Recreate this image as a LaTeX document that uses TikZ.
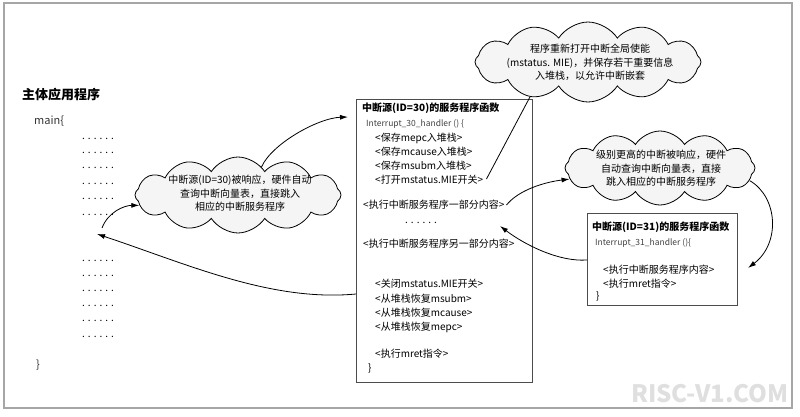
\documentclass[tikz,border=0pt]{standalone}
\usepackage{fontspec}
\setmainfont{Noto Sans CJK SC}
\usetikzlibrary{shapes.symbols,arrows.meta,calc}
\newcommand\sixdots{.\hspace{3pt}.\hspace{3pt}.\hspace{3pt}.\hspace{3pt}.\hspace{3pt}.}
\begin{document}
\begin{tikzpicture}[x=1pt,y=-1pt,
  txt/.style={anchor=west,inner sep=0pt,font=\fontsize{10}{12}\selectfont},
  hdl/.style={anchor=west,inner sep=0pt,font=\fontsize{8.5}{10}\selectfont,text=black!75},
  ttl/.style={anchor=west,inner sep=0pt,font=\fontsize{10}{12}\selectfont\bfseries},
  cloudbg/.style={cloud,cloud puffs=12,cloud puff arc=115,cloud ignores aspect,draw=black,fill=gray!8,line width=0.8pt,inner sep=0pt},
  cloudtxt/.style={align=center,inner sep=0pt,font=\fontsize{10}{13.5}\selectfont},
  box/.style={draw=black!70,line width=1pt,inner sep=0pt,anchor=north west},
  arr/.style={-{Latex[length=8pt,width=5pt]},line width=0.8pt},
  plain/.style={line width=0.8pt}]

\useasboundingbox (0,0) rectangle (800,417);
\draw[gray!70,line width=1.2pt] (4,3) rectangle (792,408);

% main program
\node[anchor=west,inner sep=0pt,font=\fontsize{13}{15}\selectfont\bfseries] (mt) at (22,95) {主体应用程序};
\node[anchor=west,inner sep=0pt,font=\fontsize{11}{13}\selectfont,text=black!80] (mm) at (34,121) {main\{};
\foreach \yy [count=\i] in {139,153,168,184,199,215,261,276,291,306,321,337}
  \node[txt] (md\i) at (82,\yy) {\sixdots};
\node[anchor=west,inner sep=0pt,font=\fontsize{11}{13}\selectfont,text=black!80] (mc) at (36,365) {\}};

% box 2
\node[box,minimum width=176pt,minimum height=283pt] (b2) at (356,99) {};
\node[ttl] (b2t) at (362,108) {中断源(ID=30)的服务程序函数};
\node[hdl] (b2h) at (366,124) {Interrupt\_30\_handler () \{};
\node[txt] (t1) at (375,138) {<保存mepc入堆栈>};
\node[txt] (t2) at (375,152) {<保存mcause入堆栈>};
\node[txt] (t3) at (375,166) {<保存msubm入堆栈>};
\node[txt] (t5) at (375,180) {<打开mstatus.MIE开关>};
\node[txt] (t6) at (363,205) {<执行中断服务程序一部分内容>};
\node[txt] (dd) at (405,223) {\sixdots};
\node[txt] (t7) at (363,244) {<执行中断服务程序另一部分内容>};
\node[txt] (t8) at (375,284) {<关闭mstatus.MIE开关>};
\node[txt] (t9) at (375,299) {<从堆栈恢复msubm>};
\node[txt] (t10) at (375,313) {<从堆栈恢复mcause>};
\node[txt] (t11) at (375,327) {<从堆栈恢复mepc>};
\node[txt] (t12) at (375,354) {<执行mret指令>};
\node[txt] (t13) at (368,368) {\}};

% box 3
\node[box,minimum width=150pt,minimum height=92pt] (b3) at (587,213) {};
\node[ttl] (b3t) at (592,227) {中断源(ID=31)的服务程序函数};
\node[hdl] (b3h) at (595,243) {Interrupt\_31\_handler ()\{};
\node[txt] (s1) at (603,270) {<执行中断服务程序内容>};
\node[txt] (s2) at (603,284) {<执行mret指令>};
\node[txt] (s3) at (596,296) {\}};

% clouds
\node[cloudbg,minimum width=206pt,minimum height=76pt] (c1) at (238,195) {};
\node[cloudtxt] (c1t) at (240,193.5) {中断源(ID=30)被响应，硬件自动\\查询中断向量表，直接跳入\\相应的中断服务程序};
\node[cloudbg,minimum width=190pt,minimum height=74pt] (c2) at (660,168) {};
\node[cloudtxt] (c2t) at (661,168.5) {级别更高的中断被响应，硬件\\自动查询中断向量表，直接\\跳入相应的中断服务程序};
\node[cloudbg,minimum width=226pt,minimum height=80pt] (c3) at (588,62) {};
\node[cloudtxt] (c3t) at (590,62.5) {程序重新打开中断全局使能\\(mstatus. MIE)，并保存若干重要信息\\入堆栈，以允许中断嵌套};

% connectors
\coordinate (m1) at (102,228);
\coordinate (m2) at (97,234);
\coordinate (r1) at (500,226);
\draw[arr] (m1) .. controls +(6,-16) and +(-15,0) .. (c1.186);
\draw[arr] (c1.50) .. controls +(10,-23) and +(-30,1) .. ($(b2.north west)+(-8,18)$);
\draw[arr] ($(b2.north west)+(0,195)$) .. controls +(-85,8) and +(90,30) .. (m2);
\draw[plain] ($(t5.east)+(3,-1)$) -- (c3.211);
\draw[arr] ($(t6.east)+(2,0)$) .. controls +(12,-15) and +(-25,3) .. (c2.187);
\draw[arr] (c2.-8) .. controls +(28,16) and +(33,-25) .. ($(b3.north east)+(10,55)$);
\draw[arr] ($(b3.north west)+(0,47)$) .. controls +(-28,2) and +(25,19) .. (r1);

% watermark
\node[inner sep=0pt,font=\fontsize{24}{24}\selectfont\bfseries,text=gray!25] (wm) at (710,394) {RISC-V1.COM};
\end{tikzpicture}
\end{document}
